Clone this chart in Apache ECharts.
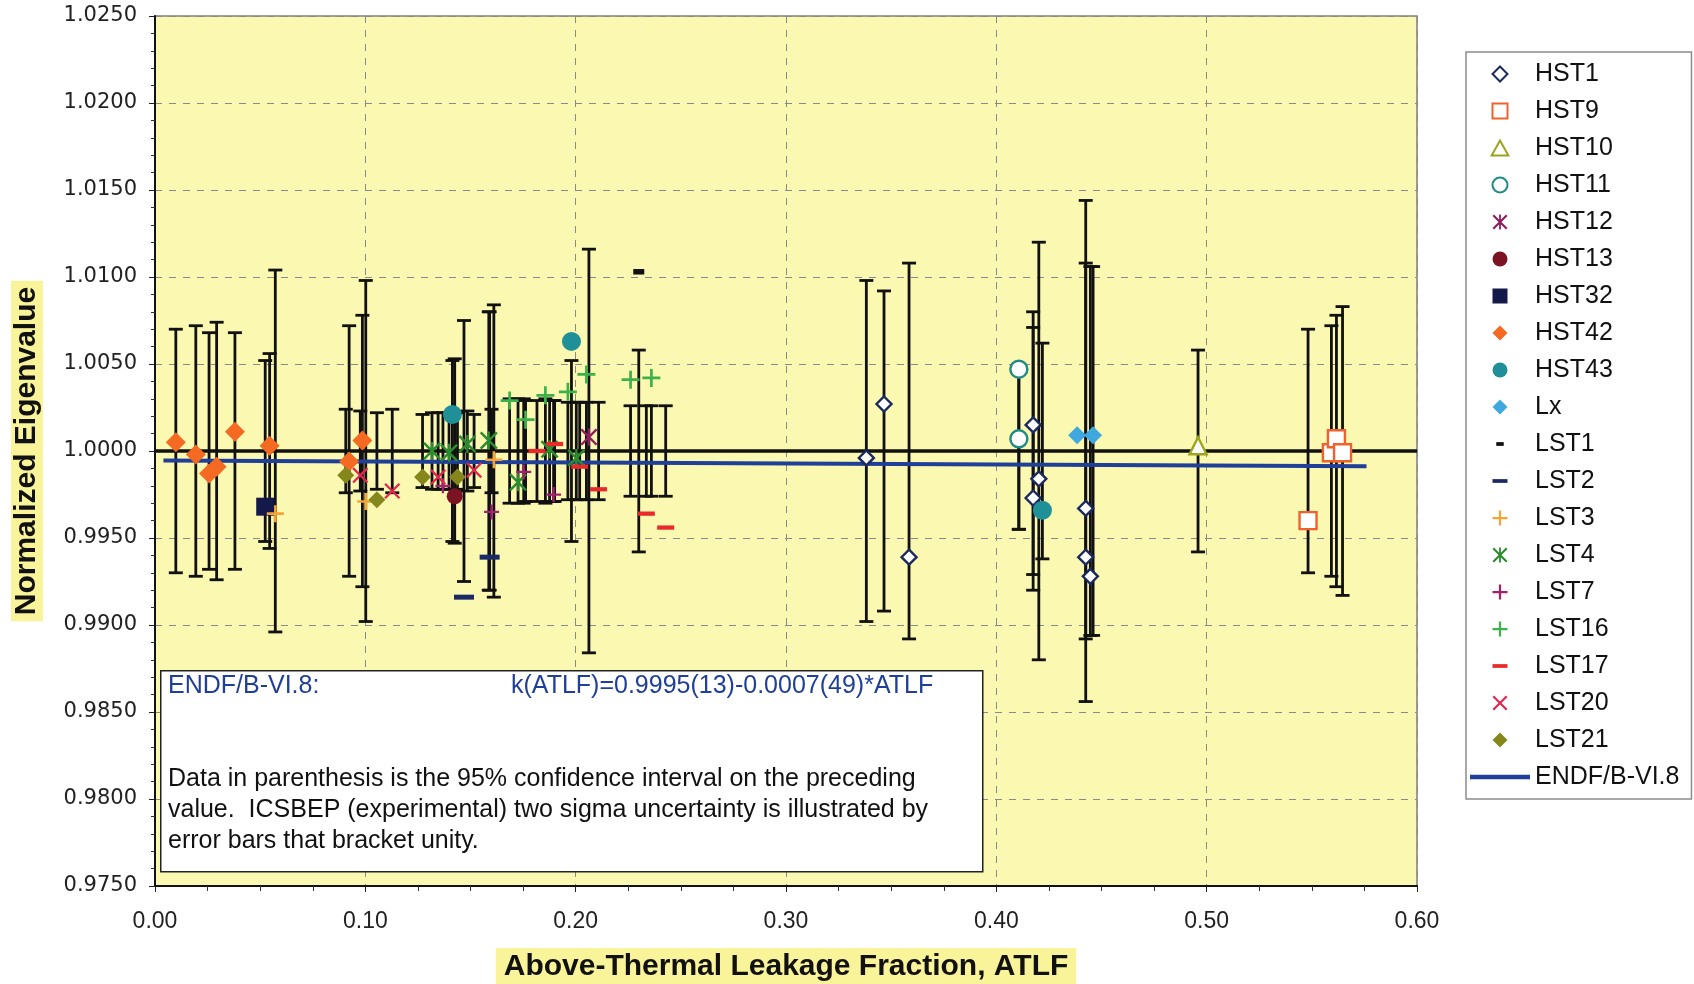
<!DOCTYPE html>
<html>
<head>
<meta charset="utf-8">
<script src="https://cdn.jsdelivr.net/npm/echarts@6/dist/echarts.min.js"></script>
<style>
  html, body { margin: 0; padding: 0; background: #fff; }
  #chart { width: 1694px; height: 984px; }
</style>
</head>
<body>
<div id="chart"></div>
<script>
// each point: [ATLF, normalized eigenvalue, ICSBEP two-sigma (bar brackets unity)]
var hst1  = [[0.3382, 0.9996, 0.0098], [0.3466, 1.0027, 0.0092], [0.3585, 0.9939, 0.0108],
             [0.4175, 1.0015, 0.0080], [0.4175, 0.9973, 0.0071], [0.4202, 0.9984, 0.0120],
             [0.4425, 0.9967, 0.0144], [0.4425, 0.9939, 0.0108], [0.4447, 0.9928, 0.0106]];
var hst9  = [[0.5482, 0.9960, 0.0070], [0.5593, 0.9999, 0.0072], [0.5617, 1.0007, 0.0078], [0.5646, 0.9999, 0.0083]];
var hst10 = [[0.4959, 1.0003, 0.0058]];
var hst11 = [[0.4107, 1.0047, 0.0045], [0.4107, 1.0007, 0.0045]];
var hst12 = [[0.2063, 1.0008, 0.0116]];
var hst13 = [[0.1425, 0.9974, 0.0053]];
var hst32 = [[0.0524, 0.9968, 0.0052]];
var hst42 = [[0.0099, 1.0005, 0.0070], [0.0194, 0.9998, 0.0072], [0.0257, 0.9987, 0.0068],
             [0.0293, 0.9991, 0.0074], [0.0380, 1.0011, 0.0068], [0.0545, 1.0003, 0.0056],
             [0.0923, 0.9994, 0.0072], [0.0986, 1.0006, 0.0078]];
var hst43 = [[0.1414, 1.0021, 0.0052], [0.1980, 1.0063, 0.0052], [0.4219, 0.9966, 0.0062]];
var lx    = [[0.4384, 1.0009, null], [0.4460, 1.0009, 0.0106]];
var lst1  = [[0.2300, 1.0103, 0.0058]];
var lst2  = [[0.1469, 0.9916, 0.0075], [0.1591, 0.9939, 0.0080]];
var lst3  = [[0.0572, 0.9964, 0.0104], [0.1002, 0.9971, 0.0098], [0.1611, 0.9995, 0.0084]];
var lst4  = [[0.1317, 1.0000, 0.0022], [0.1398, 0.9999, 0.0022], [0.1485, 1.0004, 0.0023],
             [0.1587, 1.0006, 0.0080], [0.1726, 0.9982, 0.0030], [0.1876, 1.0001, 0.0029],
             [0.2003, 0.9996, 0.0028]];
var lst7  = [[0.1369, 0.9980, 0.0022], [0.1600, 0.9965, 0.0024], [0.1753, 0.9988, 0.0030], [0.1895, 0.9975, 0.0029]];
var lst16 = [[0.1686, 1.0029, 0.0030], [0.1762, 1.0018, 0.0029], [0.1856, 1.0032, 0.0030],
             [0.1963, 1.0034, 0.0028], [0.2051, 1.0044, 0.0028], [0.2261, 1.0041, 0.0026],
             [0.2360, 1.0042, 0.0026]];
var lst17 = [[0.1816, 1.0000, 0.0029], [0.1900, 1.0004, 0.0029], [0.2019, 0.9991, 0.0028],
             [0.2109, 0.9978, 0.0028], [0.2336, 0.9964, 0.0026], [0.2428, 0.9956, 0.0026]];
var lst20 = [[0.0976, 0.9986, 0.0023], [0.1128, 0.9977, 0.0024], [0.1346, 0.9985, 0.0022], [0.1517, 0.9989, 0.0021]];
var lst21 = [[0.0907, 0.9986, 0.0024], [0.1055, 0.9972, 0.0022], [0.1272, 0.9985, 0.0021], [0.1438, 0.9985, 0.0022]];

// ENDF/B-VI.8 fit, end points as drawn
var fitLine = [[0.004, 0.99945], [0.576, 0.99913]];
var unity = [[0, 1], [0.6, 1]];

var SYM = {
    diamond: 'path://M10,0L20,10L10,20L0,10Z',
    square: 'path://M0,0H20V20H0Z',
    triangle: 'path://M10,0L20,18H0Z',
    plus: 'path://M8.5,0h3v20h-3zM0,8.5h20v3h-20z',
    cross: 'path://M0,2L2,0L20,18L18,20ZM18,0L20,2L2,20L0,18Z',
    star: 'path://M8.8,0h2.4v20h-2.4zM0,2L2,0L20,18L18,20ZM18,0L20,2L2,20L0,18Z',
    dash: 'path://M0,0L0,0M20,20L20,20M0,7.5h20v5h-20z',
    shortDash: 'path://M0,0L0,0M20,20L20,20M5,7.5h10v5h-10z'
};

var groups = [
    { name: 'HST1',  data: hst1,  symbol: SYM.diamond,  size: 15, color: '#1b2a5e', open: true },
    { name: 'HST9',  data: hst9,  symbol: SYM.square,   size: 17, color: '#f0622d', open: true },
    { name: 'HST10', data: hst10, symbol: SYM.triangle, size: 17, color: '#9ca51f', open: true },
    { name: 'HST11', data: hst11, symbol: 'circle',     size: 17, color: '#1f8a86', open: true },
    { name: 'HST12', data: hst12, symbol: SYM.star,     size: 17, color: '#8e1e5c' },
    { name: 'HST13', data: hst13, symbol: 'circle',     size: 16, color: '#7b1322' },
    { name: 'HST32', data: hst32, symbol: SYM.square,   size: 18, color: '#15194a' },
    { name: 'HST42', data: hst42, symbol: SYM.diamond,  size: 20, color: '#f46a22' },
    { name: 'HST43', data: hst43, symbol: 'circle',     size: 19, color: '#1f8f98' },
    { name: 'Lx',    data: lx,    symbol: SYM.diamond,  size: 18, color: '#3fa9df' },
    { name: 'LST1',  data: lst1,  symbol: SYM.shortDash, size: 22, color: '#111111' },
    { name: 'LST2',  data: lst2,  symbol: SYM.dash,     size: 20, color: '#1b2a66' },
    { name: 'LST3',  data: lst3,  symbol: SYM.plus,     size: 17, color: '#f5a535' },
    { name: 'LST4',  data: lst4,  symbol: SYM.star,     size: 18, color: '#2b8c2e' },
    { name: 'LST7',  data: lst7,  symbol: SYM.plus,     size: 15, color: '#a3206f' },
    { name: 'LST16', data: lst16, symbol: SYM.plus,     size: 18, color: '#3db24a' },
    { name: 'LST17', data: lst17, symbol: SYM.dash,     size: 17, color: '#e82a2a' },
    { name: 'LST20', data: lst20, symbol: SYM.cross,    size: 16, color: '#e3264f' },
    { name: 'LST21', data: lst21, symbol: SYM.diamond,  size: 17, color: '#85871c' }
];

var errData = [];
groups.forEach(function (g) {
    g.data.forEach(function (p) {
        if (p[2] != null) errData.push([p[0], 1 - p[2], 1 + p[2]]);
    });
});

var series = [];

series.push({
    type: 'custom',
    name: 'bars',
    data: errData,
    encode: { x: 0, y: [1, 2] },
    silent: true,
    z: 2,
    renderItem: function (params, api) {
        var top = api.coord([api.value(0), api.value(2)]);
        var bot = api.coord([api.value(0), api.value(1)]);
        var st = { stroke: '#111', lineWidth: 2.8 };
        return {
            type: 'group',
            children: [
                { type: 'line', shape: { x1: top[0], y1: top[1], x2: bot[0], y2: bot[1] }, style: st },
                { type: 'line', shape: { x1: top[0] - 7, y1: top[1], x2: top[0] + 7, y2: top[1] }, style: st },
                { type: 'line', shape: { x1: bot[0] - 7, y1: bot[1], x2: bot[0] + 7, y2: bot[1] }, style: st }
            ]
        };
    }
});

series.push({
    type: 'line', name: 'unity', data: unity, symbol: 'none', silent: true, z: 3,
    lineStyle: { color: '#111', width: 3.5 }
});

series.push({
    type: 'line', name: 'ENDF/B-VI.8', data: fitLine, symbol: 'none', silent: true, z: 3,
    itemStyle: { color: '#1f3f99' },
    lineStyle: { color: '#1f3f99', width: 4 }
});

groups.forEach(function (g) {
    series.push({
        type: 'scatter',
        name: g.name,
        data: g.data.map(function (p) { return [p[0], p[1]]; }),
        symbol: g.symbol,
        symbolSize: g.size,
        z: 5,
        itemStyle: g.open
            ? { color: '#ffffff', borderColor: g.color, borderWidth: 2.4, opacity: 1 }
            : { color: g.color, opacity: 1 }
    });
});

var legendData = groups.map(function (g) { return { name: g.name }; });
legendData.push({ name: 'ENDF/B-VI.8', icon: 'path://M0,0H60V4.5H0Z' });

var noteFont = 'Liberation Sans, Arial, sans-serif';

var dom = document.getElementById('chart');
var myChart = echarts.init(dom, null, { renderer: 'canvas' });

var option = {
    animation: false,
    backgroundColor: '#ffffff',
    grid: {
        left: 155, right: 277, top: 16, bottom: 98,
        outerBoundsMode: 'none',
        containLabel: false,
        show: true, backgroundColor: '#fbf8b1', borderColor: '#7d7d7d', borderWidth: 1.5
    },
    legend: {
        orient: 'vertical',
        left: 1466, top: 52,
        itemWidth: 60, itemHeight: 15, itemGap: 11,
        padding: [9, 12, 9, 4],
        borderColor: '#8c8c8c', borderWidth: 1.5, backgroundColor: '#ffffff',
        selectedMode: false,
        textStyle: { fontFamily: noteFont, fontSize: 25, color: '#111', lineHeight: 26 },
        data: legendData
    },
    xAxis: {
        type: 'value',
        min: 0, max: 0.6, interval: 0.1,
        name: 'Above-Thermal Leakage Fraction, ATLF',
        nameLocation: 'middle',
        nameGap: 62,
        nameTextStyle: {
            fontFamily: noteFont, fontWeight: 'bold', fontSize: 30,
            color: '#111', backgroundColor: '#f9f39a', padding: [4, 8, 2, 8]
        },
        axisLine: { lineStyle: { color: '#111', width: 2 } },
        axisTick: { length: 6, lineStyle: { color: '#222' } },
        minorTick: { show: true, splitNumber: 4, length: 5, lineStyle: { color: '#333' } },
        axisLabel: {
            margin: 24, fontFamily: noteFont, fontSize: 23, color: '#222',
            formatter: function (v) { return v.toFixed(2); }
        },
        splitLine: { show: true, lineStyle: { color: '#8a8a8a', width: 1, type: [7, 7] } }
    },
    yAxis: {
        type: 'value',
        min: 0.975, max: 1.025, interval: 0.005,
        name: 'Normalized Eigenvalue',
        nameLocation: 'middle',
        nameGap: 112,
        nameTextStyle: {
            fontFamily: noteFont, fontWeight: 'bold', fontSize: 30,
            color: '#111', backgroundColor: '#f9f39a', padding: [1, 6, 1, 6]
        },
        axisLine: { lineStyle: { color: '#111', width: 2 } },
        axisTick: { length: 6, lineStyle: { color: '#222' } },
        minorTick: { show: true, splitNumber: 5, length: 4, lineStyle: { color: '#333' } },
        axisLabel: {
            margin: 18, fontFamily: 'DejaVu Sans, sans-serif', fontSize: 21, color: '#222',
            formatter: function (v) { return v.toFixed(4); }
        },
        splitLine: { show: true, lineStyle: { color: '#8a8a8a', width: 1, type: [7, 7] } }
    },
    graphic: [
        { type: 'rect', left: 160, top: 670, z: 100,
          shape: { width: 822, height: 201 },
          style: { fill: '#ffffff', stroke: '#222', lineWidth: 1.5 } },
        { type: 'text', left: 168, top: 674, z: 101,
          style: { text: 'ENDF/B-VI.8:', fill: '#1f3f99', font: '25px ' + noteFont } },
        { type: 'text', left: 511, top: 674, z: 101,
          style: { text: 'k(ATLF)=0.9995(13)-0.0007(49)*ATLF', fill: '#1f3f99', font: '25px ' + noteFont } },
        { type: 'text', left: 168, top: 764, z: 101,
          style: {
              text: 'Data in parenthesis is the 95% confidence interval on the preceding\nvalue.  ICSBEP (experimental) two sigma uncertainty is illustrated by\nerror bars that bracket unity.',
              fill: '#111', font: '25px ' + noteFont, lineHeight: 31
          } }
    ],
    series: series
};

myChart.setOption(option);
</script>
</body>
</html>
